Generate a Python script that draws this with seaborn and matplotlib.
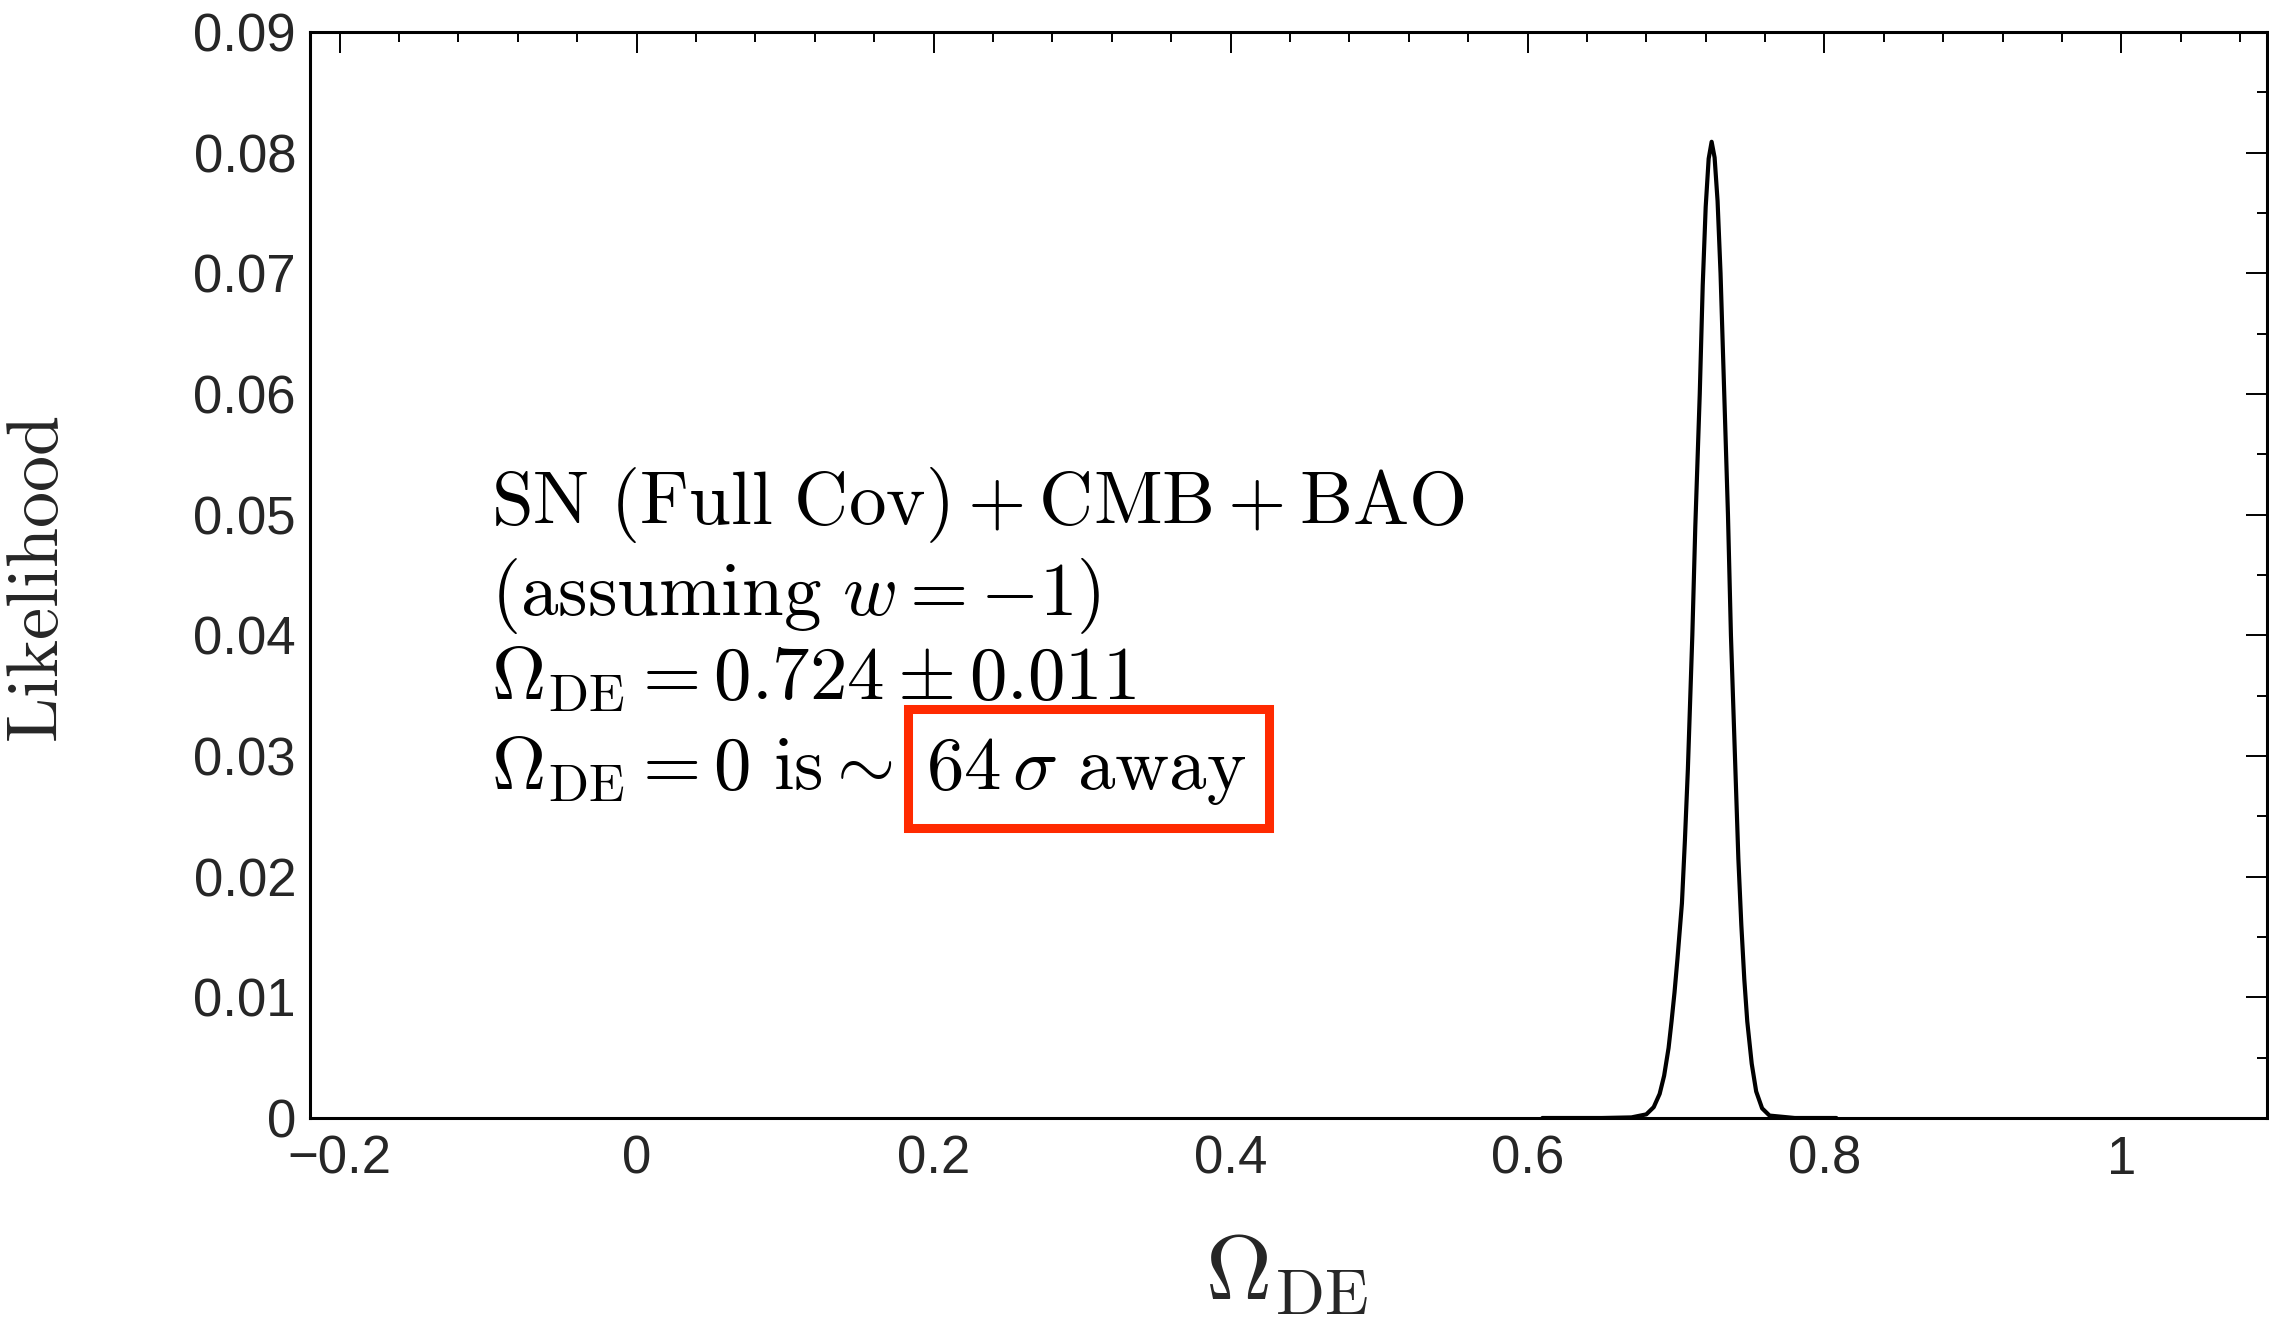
import matplotlib
matplotlib.use('Agg')
import matplotlib.pyplot as plt
import seaborn as sns
from matplotlib.patches import Rectangle
from matplotlib.ticker import FixedLocator, MultipleLocator

# likelihood curve
omega_de = [0.610, 0.650, 0.670, 0.680, 0.685, 0.689, 0.692, 0.695, 0.697, 0.699,
            0.701, 0.704, 0.706, 0.708, 0.711, 0.713, 0.716, 0.718, 0.720, 0.722,
            0.724, 0.726, 0.728, 0.730, 0.732, 0.735, 0.737, 0.740, 0.742, 0.744,
            0.746, 0.748, 0.751, 0.754, 0.758, 0.763, 0.780, 0.808]
likelihood = [0.0, 0.0, 0.00005, 0.0003, 0.0009, 0.0020, 0.0035, 0.0058, 0.0080, 0.0104,
              0.0132, 0.0178, 0.0230, 0.0289, 0.0400, 0.0490, 0.0600, 0.0690, 0.0755, 0.0795,
              0.0809, 0.0796, 0.0760, 0.0700, 0.0620, 0.0500, 0.0400, 0.0289, 0.0215, 0.0160,
              0.0115, 0.0080, 0.0045, 0.0022, 0.0008, 0.0002, 0.0, 0.0]

xtick_values = [-0.2, 0, 0.2, 0.4, 0.6, 0.8, 1]
xtick_labels = ['\u22120.2', '0', '0.2', '0.4', '0.6', '0.8', '1']
ytick_values = [0, 0.01, 0.02, 0.03, 0.04, 0.05, 0.06, 0.07, 0.08, 0.09]
ytick_labels = ['0', '0.01', '0.02', '0.03', '0.04', '0.05', '0.06', '0.07', '0.08', '0.09']

annotation_lines = [
    r'$\mathrm{SN\ (Full\ Cov) + CMB + BAO}$',
    r'$\mathrm{(assuming}\ w = -1\mathrm{)}$',
    r'$\Omega_{\mathrm{DE}} = 0.724 \pm 0.011$',
    r'$\Omega_{\mathrm{DE}} = 0\ \mathrm{is} \sim\; 64\,\sigma\ \mathrm{away}$',
]
annotation_baselines = [0.0492, 0.0417, 0.0347, 0.0273]

sns.set_theme(style='white')
plt.rcParams['font.family'] = ['Liberation Sans', 'DejaVu Sans']
plt.rcParams['mathtext.fontset'] = 'cm'

fig = plt.figure(figsize=(22.69, 13.27), dpi=100)
ax = fig.add_axes([0.1366, 0.1575, 0.8625, 0.8184])

sns.lineplot(x=omega_de, y=likelihood, color='black', linewidth=3.0, ax=ax)

ax.set_xlim(-0.22, 1.098)
ax.set_ylim(0, 0.09)

ax.xaxis.set_major_locator(FixedLocator(xtick_values))
ax.set_xticklabels(xtick_labels)
ax.xaxis.set_minor_locator(MultipleLocator(0.04))
ax.yaxis.set_major_locator(FixedLocator(ytick_values))
ax.set_yticklabels(ytick_labels)
ax.yaxis.set_minor_locator(MultipleLocator(0.005))

ax.tick_params(which='both', direction='in', top=True, right=True, width=1.4, color='black')
ax.tick_params(which='major', length=15)
ax.tick_params(which='minor', length=7)
ax.tick_params(axis='x', which='major', labelsize=38, pad=12)
ax.tick_params(axis='y', which='major', labelsize=38, pad=10)

for spine in ax.spines.values():
    spine.set_color('black')
    spine.set_linewidth(2.2)

ax.set_ylabel(r'$\mathrm{Likelihood}$', fontsize=52)
ax.yaxis.set_label_coords(-0.121, 0.496)
ax.set_xlabel(r'$\Omega_{\mathrm{DE}}$', fontsize=66)
ax.xaxis.set_label_coords(0.499, -0.105)

for line, yb in zip(annotation_lines, annotation_baselines):
    ax.text(-0.098, yb, line, fontsize=54, ha='left', va='baseline', color='black')

ax.add_patch(Rectangle((0.183, 0.0240), 0.2427, 0.0099, fill=False,
                       edgecolor='#ff2a00', linewidth=6.5, zorder=5))

fig.savefig('out.png', dpi=100)
